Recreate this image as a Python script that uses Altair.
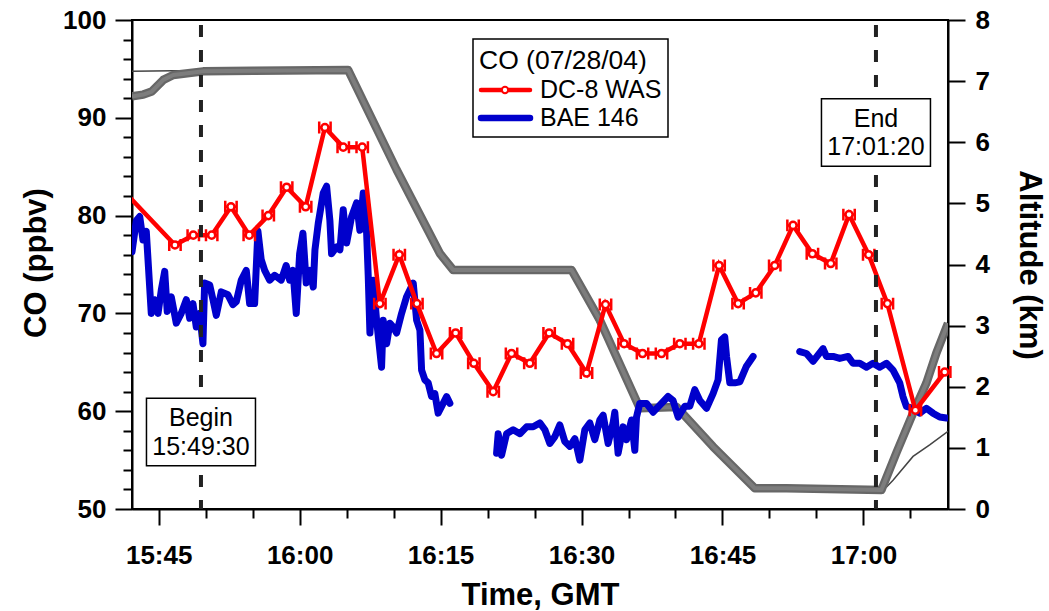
import altair as alt
import pandas as pd

# ---------------------------------------------------------------------------
# Data. Time is given in minutes after 15:00 GMT.
# ---------------------------------------------------------------------------
series_names = ["DC-8 WAS", "BAE 146"]
legend_title = "CO (07/28/04)"

# DC-8 whole-air-sampler CO (ppbv)
dc8_time = [41.0, 46.73, 48.68, 50.64, 52.69, 54.64, 56.66, 58.62, 60.64, 62.69, 64.64, 66.66,
            68.54, 70.60, 72.48, 74.57, 76.60, 78.54, 80.60, 82.55, 84.50, 86.55, 88.51, 90.53,
            92.55, 94.53, 96.49, 98.51, 100.46, 102.48, 104.64, 106.66, 108.54, 110.56, 112.51,
            114.57, 116.52, 118.47, 120.56, 122.55, 125.53, 128.65]
dc8_co = [82.8, 77.0, 78.0, 78.0, 80.9, 78.0, 80.0, 82.9, 80.9, 89.0, 87.0, 87.0,
          71.0, 76.0, 71.0, 65.9, 68.0, 64.9, 62.0, 65.9, 64.9, 68.0, 66.9, 63.9,
          70.9, 66.9, 65.9, 65.9, 66.9, 66.9, 74.9, 71.0, 72.1, 74.9, 79.0,
          76.1, 75.1, 80.1, 76.0, 71.0, 60.1, 64.0]

# BAe-146 continuous CO (ppbv), three stretches of (time, CO)
bae_part1 = [(42.16, 76.3), (42.62, 79.5), (42.98, 79.9), (43.33, 77.5), (43.68, 78.4), (44.04, 72.7),
             (44.21, 70.0), (44.57, 71.4), (44.93, 70.0), (45.28, 72.4), (45.64, 74.3), (45.91, 70.2),
             (46.34, 71.7), (46.87, 69.0), (47.40, 70.0), (47.94, 71.4), (48.30, 69.5), (48.65, 71.0),
             (49.00, 68.6), (49.36, 70.0), (49.71, 66.9), (49.89, 73.1), (50.43, 72.9), (50.78, 71.4),
             (51.13, 69.8), (51.66, 72.2), (52.37, 71.9), (52.90, 70.9), (53.26, 71.2), (53.79, 73.4),
             (54.32, 74.4), (54.68, 71.0), (55.21, 71.0), (55.56, 78.4), (55.91, 75.5), (56.28, 74.4),
             (56.81, 73.4), (57.34, 73.9), (58.04, 73.4), (58.57, 74.9), (58.94, 73.4), (59.29, 74.4),
             (59.64, 70.0), (60.00, 76.1), (60.35, 78.2), (60.70, 73.1), (61.10, 74.4), (61.45, 72.7),
             (61.63, 76.5), (61.98, 79.2), (62.51, 82.3), (62.87, 83.0), (63.22, 79.5), (63.40, 76.1),
             (63.94, 76.8), (64.29, 76.5), (64.64, 80.6), (65.00, 77.2), (65.53, 79.9), (66.06, 81.3),
             (66.41, 78.5), (66.77, 82.3), (67.13, 78.2), (67.30, 73.8), (67.48, 68.0), (67.83, 73.4),
             (68.19, 69.3), (68.72, 64.5), (68.89, 69.3), (69.26, 66.9), (69.61, 69.0), (69.96, 68.6),
             (70.32, 68.0), (70.85, 70.0), (71.38, 71.7), (72.09, 73.1), (72.45, 69.3), (72.80, 68.3),
             (72.98, 64.2), (73.33, 63.2), (73.68, 62.9), (74.04, 61.5), (74.39, 61.8), (74.74, 59.8),
             (75.11, 60.5), (75.64, 61.5), (75.99, 60.8)]
bae_part2 = [(80.96, 55.7), (81.13, 57.7), (81.49, 55.5), (82.02, 57.7), (82.72, 58.1), (83.44, 57.7),
             (84.15, 58.4), (84.85, 58.4), (85.56, 58.8), (86.10, 58.1), (86.63, 56.7), (87.16, 57.4),
             (87.69, 58.6), (88.22, 56.9), (88.76, 56.4), (89.29, 57.2), (89.82, 55.0), (90.35, 58.1),
             (90.88, 58.8), (91.41, 57.1), (91.95, 59.1), (92.30, 59.6), (92.83, 56.7), (93.36, 58.8),
             (93.54, 59.9), (93.89, 55.7), (94.43, 58.4), (94.79, 57.1), (95.32, 59.1), (95.67, 56.0),
             (95.85, 59.4), (96.20, 60.8), (96.91, 60.8), (97.62, 59.9), (98.51, 60.8), (99.21, 61.5),
             (99.74, 61.1), (100.28, 59.4), (100.99, 60.5), (101.52, 60.5), (102.05, 62.2), (102.59, 61.1),
             (103.30, 60.3), (104.00, 61.8), (104.53, 63.2), (104.89, 67.3), (105.24, 67.6), (105.43, 65.6),
             (105.78, 62.9), (106.31, 62.9), (106.84, 63.0), (107.55, 64.6), (108.26, 65.6)]
bae_part3 = [(113.22, 66.1), (113.94, 65.9), (114.64, 65.1), (115.70, 66.4), (116.06, 65.6), (116.77, 65.6),
             (117.48, 65.4), (118.36, 65.6), (118.89, 64.9), (119.61, 64.9), (120.32, 64.5), (121.02, 64.9),
             (121.73, 64.5), (122.45, 64.9), (123.15, 64.2), (123.86, 62.9), (124.21, 61.5), (124.57, 60.5),
             (125.28, 60.3), (125.99, 59.8), (126.70, 60.3), (127.40, 59.8), (128.12, 59.4), (128.83, 59.3)]

# Aircraft altitude (km): main flight track (thick) and companion track (thin)
altitude_main = [(42.16, 6.75), (43.36, 6.78), (44.26, 6.83), (45.49, 7.02), (46.55, 7.10), (49.74, 7.16),
                 (55.06, 7.17), (65.17, 7.18), (70.32, 5.55), (74.93, 4.18), (76.34, 3.91), (88.94, 3.91),
                 (91.95, 3.09), (96.20, 1.65), (100.11, 1.67), (104.00, 1.02), (108.44, 0.34), (111.81, 0.34),
                 (121.91, 0.31), (123.51, 0.92), (125.28, 1.57), (126.70, 2.06), (127.76, 2.55), (129.00, 3.04)]
altitude_thin = [(42.16, 7.16), (46.55, 7.17), (55.06, 7.17), (65.17, 7.18), (74.93, 4.18), (76.34, 3.91),
                 (88.94, 3.91), (96.20, 1.65), (100.11, 1.67), (108.44, 0.34), (121.73, 0.34), (122.45, 0.36),
                 (123.15, 0.47), (125.28, 0.86), (127.05, 1.05), (129.00, 1.27)]

# Comparison window
window_labels = ["Begin", "End"]
window_times = ["15:49:30", "17:01:20"]

# Axis ranges
time_range = [42.16, 129.0]
co_range = [50, 100]
alt_range = [0, 8]


def clock_to_min(s):
    h, m, sec = (int(p) for p in s.split(":"))
    return (h - 15) * 60 + m + sec / 60


# ---------------------------------------------------------------------------
# Tables
# ---------------------------------------------------------------------------
dc8_df = pd.DataFrame({"t": dc8_time, "co": dc8_co})
bae_rows = []
for seg, part in enumerate([bae_part1, bae_part2, bae_part3]):
    bae_rows += [{"t": t, "co": c, "seg": seg} for t, c in part]
bae_df = pd.DataFrame(bae_rows)
alt_main_df = pd.DataFrame(altitude_main, columns=["t", "km"])
alt_thin_df = pd.DataFrame(altitude_thin, columns=["t", "km"])

W, H = 816, 489
FONT = "Liberation Sans"

x_axis = alt.Axis(
    values=list(range(45, 126, 5)),
    labelExpr="datum.value % 15 === 0 ? (15 + floor(datum.value / 60)) + ':' + "
              "(datum.value % 60 < 10 ? '0' : '') + (datum.value % 60) : ''",
    tickSize={"condition": {"test": "datum.value % 15 === 0", "value": 16}, "value": 9},
    labelPadding=17,
    labelOverlap=False,
    title="Time, GMT",
    titleX=W / 2, titleY=86, titleAlign="center", titleBaseline="middle",
)
x_enc = alt.X("t:Q", scale=alt.Scale(domain=time_range, nice=False, zero=False), axis=x_axis)

co_axis = alt.Axis(
    orient="left",
    values=list(range(50, 101, 2)),
    labelExpr="datum.value % 10 === 0 ? datum.value : ''",
    tickSize={"condition": {"test": "datum.value % 10 === 0", "value": 17}, "value": 9},
    labelPadding=9,
    labelOverlap=False,
    title="CO  (ppbv)",
    titleX=-96, titleY=H / 2 - 2, titleAlign="center", titleBaseline="middle",
)
co_scale = alt.Scale(domain=co_range, nice=False, zero=False)

km_axis = alt.Axis(
    orient="right",
    values=list(range(0, 9)),
    tickSize=17,
    labelPadding=10,
    title="Altitude  (km)",
    titleX=80, titleY=H / 2, titleAlign="center", titleBaseline="middle",
)
km_scale = alt.Scale(domain=alt_range, nice=False, zero=False)

# ---------------------------------------------------------------------------
# Altitude layers
# ---------------------------------------------------------------------------
km_y = alt.Y("km:Q", scale=km_scale, axis=km_axis)
altitude_layer = alt.layer(
    alt.Chart(alt_thin_df).mark_line(color="#444444", strokeWidth=1.5, clip=True).encode(x=x_enc, y=km_y),
    alt.Chart(alt_main_df).mark_line(color="#676767", strokeWidth=8.5, strokeJoin="round", clip=True)
    .encode(x=x_enc, y=km_y),
    alt.Chart(alt_main_df).mark_line(color="#7d7d7d", strokeWidth=4, strokeJoin="round", clip=True)
    .encode(x=x_enc, y=km_y),
)

# ---------------------------------------------------------------------------
# CO layers
# ---------------------------------------------------------------------------
co_y = alt.Y("co:Q", scale=co_scale, axis=co_axis)
RED, BLUE = "#ff0000", "#0000cc"

bae_line = alt.Chart(bae_df).mark_line(
    color=BLUE, strokeWidth=7, strokeJoin="round", strokeCap="round", clip=True
).encode(x=x_enc, y=co_y, detail="seg:N")

dc8_line = alt.Chart(dc8_df).mark_line(color=RED, strokeWidth=4.5, clip=True).encode(x=x_enc, y=co_y)
dc8_caps = alt.Chart(dc8_df[dc8_df.t >= time_range[0]]).mark_point(
    shape="M-1,-1.05L-1,1.05M1,-1.05L1,1.05M-1,0L1,0", size=130, stroke=RED, strokeWidth=2.5,
    filled=False, opacity=1,
).encode(x=x_enc, y=co_y)
dc8_rings = alt.Chart(dc8_df[dc8_df.t >= time_range[0]]).mark_point(
    shape="circle", size=50, stroke=RED, strokeWidth=2.5, fill="white", filled=True, opacity=1,
).encode(x=x_enc, y=co_y)

# Begin / End markers
win_df = pd.DataFrame({"t": [clock_to_min(s) for s in window_times]})
win_rules = alt.Chart(win_df).mark_rule(
    color="#222222", strokeWidth=4, strokeDash=[12, 13]
).encode(x=x_enc, y=alt.value(5), y2=alt.value(H))

box_shape = "M-1,-0.62L1,-0.62L1,0.62L-1,0.62Z"
box_centers = [412, 112.5]
notes = []
for i, (lab, tm) in enumerate(zip(window_labels, window_times)):
    one = win_df.iloc[[i]]
    cy = box_centers[i]
    notes.append(
        alt.Chart(one).mark_point(
            shape=box_shape, size=109 * 109, fill="white", filled=True, stroke="black",
            strokeWidth=1.5, opacity=1,
        ).encode(x=x_enc, y=alt.value(cy))
    )
    for j, line in enumerate([lab, tm]):
        notes.append(
            alt.Chart(one).mark_text(
                font=FONT, fontSize=25, color="black", align="center", baseline="middle",
            ).encode(x=x_enc, y=alt.value(cy - 14 + 28.5 * j), text=alt.value(line))
        )

# Legend panel
one_row = pd.DataFrame({"k": [0]})
lg_x0, lg_y0 = 341, 19
legend = [
    alt.Chart(one_row).mark_rect(fill="white", stroke="black", strokeWidth=1.5).encode(
        x=alt.value(lg_x0), x2=alt.value(lg_x0 + 195), y=alt.value(lg_y0), y2=alt.value(lg_y0 + 98)
    ),
    alt.Chart(one_row).mark_text(font=FONT, fontSize=26.5, align="left", baseline="middle").encode(
        x=alt.value(lg_x0 + 6), y=alt.value(lg_y0 + 22), text=alt.value(legend_title)
    ),
    alt.Chart(one_row).mark_rule(color=RED, strokeWidth=4.5, strokeCap="round").encode(
        x=alt.value(lg_x0 + 8), x2=alt.value(lg_x0 + 57), y=alt.value(lg_y0 + 51)
    ),
    alt.Chart(one_row).mark_point(shape="circle", size=40, stroke=RED, strokeWidth=2, fill="white",
                                  filled=True, opacity=1).encode(
        x=alt.value(lg_x0 + 32), y=alt.value(lg_y0 + 51)
    ),
    alt.Chart(one_row).mark_rule(color=BLUE, strokeWidth=6.5, strokeCap="round").encode(
        x=alt.value(lg_x0 + 8), x2=alt.value(lg_x0 + 57), y=alt.value(lg_y0 + 79)
    ),
]
for k, name in enumerate(series_names):
    legend.append(
        alt.Chart(one_row).mark_text(font=FONT, fontSize=25, align="left", baseline="middle").encode(
            x=alt.value(lg_x0 + 67), y=alt.value(lg_y0 + 51 + 28 * k), text=alt.value(name)
        )
    )

co_layer = alt.layer(bae_line, dc8_line, dc8_caps, dc8_rings, win_rules, *notes, *legend)

chart = (
    alt.layer(altitude_layer, co_layer)
    .resolve_scale(y="independent")
    .properties(
        width=W, height=H,
        autosize=alt.AutoSizeParams(type="none"),
        padding={"left": 132, "top": 20, "right": 101, "bottom": 102},
        background="white",
    )
    .configure_view(stroke="black", strokeWidth=2)
    .configure_axis(
        grid=False,
        domainColor="black", domainWidth=2,
        tickColor="black", tickWidth=2,
        labelFont=FONT, labelFontSize=26, labelFontWeight="bold", labelColor="black",
        titleFont=FONT, titleFontSize=31, titleFontWeight="bold", titleColor="black",
    )
)

chart.save("out.html", embed_options={"renderer": "svg", "actions": False})
